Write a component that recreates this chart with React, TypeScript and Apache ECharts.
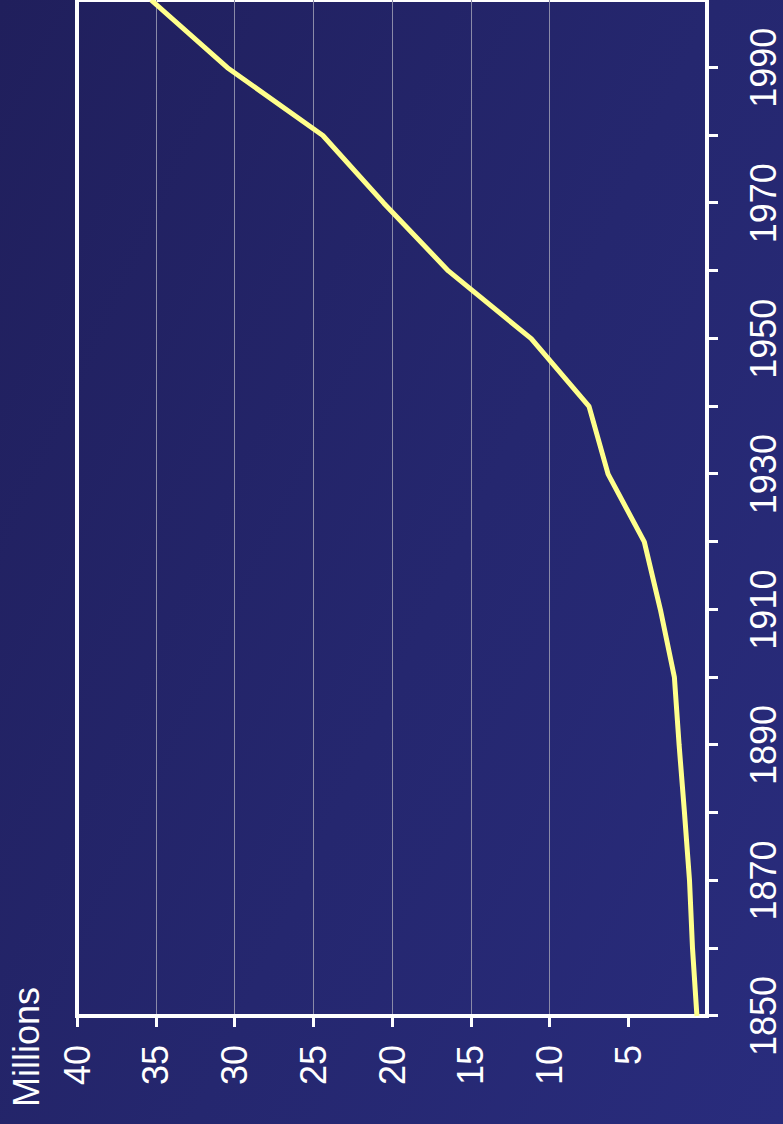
import React, { useEffect, useRef } from "react";
import * as echarts from "echarts";

const years = [1850, 1860, 1870, 1880, 1890, 1900, 1910, 1920, 1930, 1940, 1950, 1960, 1970, 1980, 1990, 2000];
const millions = [0.64, 0.92, 1.11, 1.43, 1.77, 2.07, 2.96, 3.98, 6.28, 7.49, 11.16, 16.42, 20.52, 24.39, 30.45, 35.3];
const valueTicks = [5, 10, 15, 20, 25, 30, 35, 40];
const yearTicks = [1850, 1860, 1870, 1880, 1890, 1900, 1910, 1920, 1930, 1940, 1950, 1960, 1970, 1980, 1990];
const yearLabels = [1850, 1870, 1890, 1910, 1930, 1950, 1970, 1990];

const FONT = "'Liberation Sans', Arial, Helvetica, sans-serif";

export default function App() {
  const ref = useRef<HTMLDivElement>(null);
  useEffect(() => {
    const chart = echarts.init(ref.current!, null, { renderer: "svg" });
    chart.setOption({
      animation: false,
      backgroundColor: "transparent",
      grid: {
        left: 108,
        right: -6,
        top: 77,
        bottom: 76,
        show: true,
        borderColor: "#ffffff",
        borderWidth: 4,
        backgroundColor: "transparent",
      },
      xAxis: {
        type: "value",
        min: 1850,
        max: 2000,
        axisLine: { show: true, lineStyle: { color: "#ffffff", width: 4 } },
        axisTick: { show: true, customValues: yearTicks, length: 11, lineStyle: { color: "#ffffff", width: 3 } },
        axisLabel: {
          customValues: yearLabels,
          formatter: (v: number) => String(v),
          color: "#ffffff",
          fontSize: 36,
          lineHeight: 34,
          fontFamily: FONT,
          margin: 39,
        },
        splitLine: { show: false },
      },
      yAxis: {
        type: "value",
        min: 0,
        max: 40,
        interval: 5,
        axisLine: { show: true, lineStyle: { color: "#ffffff", width: 4 } },
        axisTick: { show: true, customValues: valueTicks, length: 11, lineStyle: { color: "#ffffff", width: 3 } },
        axisLabel: {
          customValues: valueTicks,
          formatter: (v: number) => String(v),
          color: "#ffffff",
          fontSize: 36,
          fontFamily: FONT,
          margin: 29,
        },
        splitLine: {
          show: true,
          showMinLine: false,
          showMaxLine: false,
          lineStyle: { color: "#8a8aa8", width: 1 },
        },
      },
      graphic: [
        {
          type: "text",
          left: 17,
          top: 8,
          style: { text: "Millions", fill: "#ffffff", fontSize: 36, fontFamily: FONT },
        },
      ],
      series: [
        {
          type: "line",
          data: years.map((y, i) => [y, millions[i]]),
          symbol: "none",
          silent: true,
          lineStyle: { color: "#ffff8c", width: 5 },
        },
      ],
    });
    return () => chart.dispose();
  }, []);
  return (
    <div
      style={{
        position: "fixed",
        left: 0,
        top: 0,
        width: 783,
        height: 1124,
        overflow: "hidden",
        background: "linear-gradient(115deg, #201f5c 0%, #25276f 55%, #292c7d 100%)",
      }}
    >
      <div
        ref={ref}
        style={{
          position: "absolute",
          left: 0,
          top: 0,
          width: 1124,
          height: 783,
          transformOrigin: "0 0",
          transform: "translate(0px, 1124px) rotate(-90deg)",
        }}
      />
    </div>
  );
}
